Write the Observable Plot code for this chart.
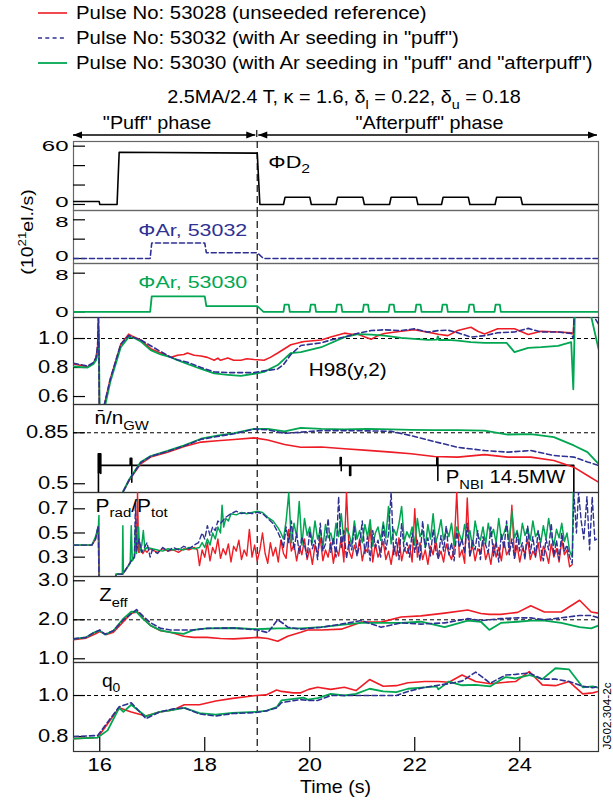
<!DOCTYPE html>
<html><head><meta charset="utf-8">
<script src="https://cdn.jsdelivr.net/npm/d3@7"></script>
<script src="https://cdn.jsdelivr.net/npm/@observablehq/plot@0.6"></script>
<style>
body{margin:0;background:#fff;}
#root{position:relative;width:613px;height:803px;overflow:hidden;}
#root svg{position:absolute;left:0;overflow:visible;}
</style></head><body><div id="root"></div>
<script>
// ================= DATA =================
const xDomain = [15.5, 25.5];
const xTicks = [16, 18, 20, 22, 24];
const phaseSplit = 19.0;
const legendLabels = [
  "Pulse No: 53028 (unseeded reference)",
  'Pulse No: 53032 (with Ar seeding in "puff")',
  'Pulse No: 53030 (with Ar seeding in "puff" and "afterpuff")'
];
const seriesColors = ["#ee1c25", "#2e3192", "#00a651"];
const subtitleParts = [["2.5MA/2.4 T, \u03ba = 1.6, \u03b4"],["l","sub"],[" = 0.22, \u03b4"],["u","sub"],[" = 0.18"]];
const phaseLabels = ['"Puff" phase', '"Afterpuff" phase'];
const yUnitLabel = [["(10"],["21","sup"],["el./s)"]];
const xTitle = "Time (s)";
const figCode = "JG02.304-2c";

// tick values
const d2Ticks = [0, 60], d2Minor = [20, 40];
const arTicks = [0, 8], arMinor = [4];
const h98Ticks = [0.6, 0.8, 1.0];
const ngwTicks = [0.5, 0.85];
const pradTicks = [0.3, 0.5, 0.7];
const zeffTicks = [1.0, 2.0, 3.0];
const q0Ticks = [0.8, 1.0];
const h98Ref = 1.0, ngwRef = 0.85, zeffRef = 2.0, q0Ref = 1.0;

// panel labels
const lblD2 = [["\u03a6"],["D"],["2","sub"]];
const lblAr32 = [["\u03a6Ar, 53032"]];
const lblAr30 = [["\u03a6Ar, 53030"]];
const lblH98 = [["H98(y,2)"]];
const lblNgw = [["n\u0304/n"],["GW","sub"]];
const lblPnbi = [["P"],["NBI","sub"],[" 14.5MW"]];
const lblPrad = [["P"],["rad","sub"],["/P"],["tot","sub"]];
const lblZeff = [["Z"],["eff","sub"]];
const lblQ0 = [["q"],["0","sub"]];

// D2 fuelling (10^21 el/s)
const d2Flux = [[15.5,3],[15.99,3],[16.0,0],[16.33,0],[16.37,53.8],[19.0,52.8],[19.05,0],[19.5,0],[19.53,7.5],[20.0,7.5],[20.03,0],[20.5,0],[20.53,7.5],[21.01,7.5],[21.04,0],[21.52,0],[21.55,7.5],[22.03,7.5],[22.06,0],[22.51,0],[22.54,7.5],[23.02,7.5],[23.05,0],[23.53,0],[23.56,7.5],[24.02,7.5],[24.05,0],[25.5,0]];
// Ar seeding
const ar53032 = [[15.5,0],[16.96,0],[16.99,3.2],[18.0,3.2],[18.03,1.2],[19.0,1.2],[19.12,0],[25.5,0]];
const ar53030 = [[15.5,0],[16.96,0],[16.99,3.2],[18.0,3.2],[18.03,1.2],[19.0,1.2],[19.12,0],[19.5,0],[19.52,1.5],[19.6,1.5],[19.62,0],[20.0,0],[20.02,1.5],[20.1,1.5],[20.12,0],[20.5,0],[20.52,1.5],[20.6,1.5],[20.62,0],[21.01,0],[21.03,1.5],[21.11,1.5],[21.13,0],[21.5,0],[21.52,1.5],[21.6,1.5],[21.62,0],[22.01,0],[22.03,1.5],[22.11,1.5],[22.13,0],[22.51,0],[22.53,1.5],[22.61,1.5],[22.63,0],[23.02,0],[23.04,1.5],[23.12,1.5],[23.14,0],[23.52,0],[23.54,1.5],[23.62,1.5],[23.64,0],[25.5,0]];

// H98(y,2)
const h98Red = [[15.5,0.825],[15.77,0.805],[15.88,0.83],[15.93,0.87],[15.96,0.95],[15.975,1.16],[15.985,0.9],[15.995,0.4],[16.06,0.5],[16.2,0.72],[16.4,0.96],[16.55,1.03],[16.6,1.02],[16.78,0.99],[16.97,0.93],[17.16,0.9],[17.36,0.87],[17.48,0.885],[17.6,0.89],[17.67,0.9],[17.8,0.885],[17.93,0.88],[18.05,0.87],[18.18,0.85],[18.25,0.865],[18.3,0.85],[18.44,0.865],[18.55,0.85],[18.69,0.85],[18.8,0.86],[18.94,0.855],[19.13,0.85],[19.25,0.87],[19.39,0.9],[19.64,0.957],[19.83,0.975],[19.9,0.98],[20.22,0.99],[20.4,1.01],[20.66,1.037],[20.8,1.03],[20.92,1.03],[21.05,1.01],[21.17,0.995],[21.3,1.02],[21.42,1.035],[21.74,1.05],[21.99,1.06],[22.25,1.044],[22.45,1.03],[22.63,1.02],[22.82,1.055],[23.07,1.078],[23.2,1.05],[23.33,1.032],[23.58,1.067],[23.9,1.067],[24.16,1.028],[24.41,1.05],[24.73,1.045],[24.98,1.04],[25.02,1.03],[25.04,1.2],[25.5,1.2]];
const h98Blue = [[15.5,0.83],[15.77,0.81],[15.88,0.835],[15.93,0.87],[15.96,0.95],[15.975,1.16],[15.985,0.9],[15.995,0.4],[16.06,0.5],[16.2,0.72],[16.4,0.96],[16.55,1.02],[16.7,1.0],[16.78,0.99],[16.97,0.95],[17.16,0.91],[17.36,0.87],[17.48,0.853],[17.67,0.837],[17.93,0.8],[18.18,0.77],[18.44,0.765],[18.69,0.765],[18.94,0.765],[19.13,0.777],[19.39,0.79],[19.5,0.82],[19.64,0.89],[19.83,0.952],[20.22,0.97],[20.4,0.99],[20.66,1.01],[20.92,1.037],[21.17,1.055],[21.42,1.06],[21.74,1.055],[21.99,1.067],[22.25,1.044],[22.45,1.055],[22.63,1.058],[22.82,1.04],[23.07,1.01],[23.33,1.02],[23.58,1.04],[23.9,1.045],[24.16,1.07],[24.41,1.045],[24.73,1.045],[24.98,1.035],[25.02,1.0],[25.04,1.2],[25.4,1.16],[25.5,1.1]];
const h98Green = [[15.5,0.807],[15.77,0.8],[15.88,0.825],[15.93,0.85],[15.965,0.9],[15.98,1.055],[15.99,0.8],[16.0,0.4],[16.08,0.5],[16.2,0.7],[16.4,0.94],[16.55,1.01],[16.65,1.005],[16.78,0.98],[16.97,0.92],[17.16,0.89],[17.36,0.87],[17.48,0.85],[17.67,0.825],[17.93,0.79],[18.18,0.76],[18.44,0.75],[18.69,0.742],[18.94,0.757],[19.13,0.77],[19.39,0.817],[19.64,0.9],[19.83,0.906],[20.22,0.94],[20.66,1.01],[20.92,1.03],[21.17,1.027],[21.42,1.02],[21.74,1.004],[21.99,0.997],[22.25,0.99],[22.42,0.992],[22.44,1.015],[22.46,0.99],[22.63,0.99],[22.82,0.986],[23.07,0.975],[23.33,0.97],[23.58,0.97],[23.75,0.97],[23.9,0.906],[24.16,0.936],[24.41,0.94],[24.73,0.95],[24.98,0.975],[25.02,0.65],[25.04,0.98],[25.05,1.2],[25.33,1.2],[25.5,0.93]];

// n/nGW
const ngwRed = [[16.38,0.4],[16.56,0.523],[16.78,0.637],[16.97,0.683],[17.29,0.717],[17.61,0.756],[17.93,0.786],[18.24,0.795],[18.56,0.804],[18.94,0.815],[19.2,0.8],[19.52,0.77],[19.83,0.751],[20.22,0.752],[20.66,0.74],[21.1,0.729],[21.55,0.717],[21.93,0.706],[22.37,0.687],[22.82,0.683],[23.33,0.7],[23.77,0.683],[24.21,0.683],[24.65,0.66],[25.03,0.614],[25.29,0.557],[25.5,0.511]];
const ngwGreen = [[16.38,0.4],[16.56,0.53],[16.78,0.65],[16.97,0.69],[17.29,0.725],[17.61,0.763],[17.93,0.809],[18.24,0.83],[18.56,0.847],[18.94,0.877],[19.2,0.877],[19.52,0.86],[19.83,0.884],[20.22,0.877],[20.66,0.873],[21.1,0.877],[21.55,0.873],[21.93,0.87],[22.37,0.868],[22.82,0.868],[23.33,0.865],[23.77,0.838],[24.21,0.84],[24.65,0.82],[25.03,0.763],[25.29,0.717],[25.5,0.637]];
const ngwBlue = [[16.38,0.4],[16.56,0.525],[16.78,0.645],[16.97,0.688],[17.29,0.722],[17.61,0.76],[17.93,0.805],[18.24,0.825],[18.56,0.843],[18.94,0.875],[19.2,0.87],[19.52,0.846],[19.83,0.854],[20.22,0.865],[20.66,0.865],[21.1,0.863],[21.55,0.86],[21.93,0.83],[22.37,0.79],[22.82,0.75],[23.33,0.728],[23.77,0.717],[24.21,0.728],[24.65,0.694],[25.03,0.683],[25.29,0.65],[25.5,0.626]];
// NBI power trace (drawn in n/nGW units)
const pnbi = [[15.975,0.4],[15.975,0.705],[16.02,0.705],[16.02,0.57],[16.02,0.626],[16.58,0.626],[16.58,0.675],[16.61,0.675],[16.61,0.51],[16.61,0.626],[20.58,0.626],[20.58,0.68],[20.6,0.68],[20.6,0.59],[20.6,0.626],[20.76,0.626],[20.76,0.557],[20.78,0.557],[20.78,0.626],[22.42,0.626],[22.42,0.68],[22.44,0.68],[22.44,0.522],[22.44,0.626],[25.03,0.626],[25.03,0.4]];

// Prad/Ptot
const pradRedHead = [[15.5,0.4],[15.85,0.4],[15.92,0.45],[15.97,0.55],[15.99,0.0],[16.3,0.0],[16.31,0.16],[16.44,0.16],[16.5,0.2],[16.6,0.27],[16.66,0.3],[16.7,0.45],[16.72,0.84],[16.74,0.34],[16.78,0.38],[16.82,0.33],[16.86,0.36],[16.9,0.34],[16.95,0.37],[17.0,0.36],[17.1,0.34],[17.2,0.37],[17.3,0.35],[17.4,0.36],[17.5,0.34],[17.6,0.37],[17.7,0.36],[17.8,0.38],[17.86,0.36]];
const pradRedNoiseT0 = 17.9;
const pradRedNoise = [.23,.36,.30,.42,.27,.38,.33,.45,.29,.37, .32,.41,.26,.39,.35,.44,.28,.36,.31,.53, .30,.40,.27,.36,.50,.33,.25,.42,.31,.38, .26,.44,.33,.29,.53,.35,.41,.27,.39,.32, .45,.28,.37,.24,.40,.33,.46,.27,.36,.30, .42,.25,.38,.31,.47,.26,.84,.35,.29,.40, .32,.45,.27,.38,.34,.55,.26,.41,.30,.36, .43,.28,.35,.24,.39,.31,.46,.27,.37,.33, .40,.26,.70,.30,.42,.28,.36,.24,.39,.32, .45,.29,.35,.26,.41,.33,.28,.38,.84,.30, .36,.25,.79,.31,.40,.27,.37,.33,.44,.28, .35,.24,.41,.30,.38,.27,.43,.32,.36,.73, .29,.40,.26,.37,.33,.45,.28,.35,.31,.42, .27,.39,.34,.25,.41,.30,.37,.26,.44,.32, .36,.22,.24];
const pradGreenHead = [[15.5,0.4],[15.85,0.4],[15.92,0.47],[15.975,0.56],[15.985,0.645],[15.995,0.0],[16.3,0.0],[16.31,0.16],[16.43,0.16],[16.44,0.56],[16.45,0.17],[16.5,0.2],[16.58,0.25],[16.6,0.56],[16.62,0.27],[16.66,0.3],[16.68,0.56],[16.7,0.33],[16.74,0.55],[16.76,0.34],[16.8,0.4],[16.83,0.52],[16.86,0.36],[16.9,0.38],[17.0,0.37],[17.1,0.36],[17.2,0.35],[17.3,0.37],[17.4,0.36],[17.5,0.37],[17.6,0.36],[17.7,0.38],[17.8,0.37],[17.9,0.38],[17.95,0.42],[18.0,0.38],[18.05,0.45],[18.1,0.4],[18.15,0.5],[18.2,0.45],[18.25,0.55],[18.3,0.5],[18.33,0.73],[18.36,0.55],[18.4,0.62],[18.45,0.6],[18.5,0.66],[18.6,0.65],[18.7,0.67],[18.8,0.66],[18.9,0.67],[19.0,0.68],[19.1,0.67],[19.2,0.63],[19.3,0.6],[19.4,0.54]];
const pradNoiseT0 = 19.45;
const pradGreenNoise = [.50,.45,.60,.83,.42,.58,.47,.76,.40,.62, .48,.55,.42,.60,.45,.52,.38,.57,.46,.50, .41,.58,.47,.66,.43,.54,.49,.40,.60,.45, .52,.42,.57,.47,.61,.39,.50,.55,.44,.59, .46,.72,.41,.53,.48,.58,.72,.43,.51,.46, .55,.40,.62,.47,.52,.38,.57,.45,.66,.42, .50,.61,.44,.53,.47,.58,.40,.55,.49,.43, .57,.46,.52,.39,.60,.48,.44,.55,.41,.58, .47,.53,.42,.62,.45,.50,.57,.43,.68,.46, .52,.41,.58,.48,.54,.44,.60,.47,.51,.42, .56,.45,.62,.48,.40,.53,.46,.58,.43,.50, .35,.30];
const pradGreenTail = [[25.02,0.84]];
const pradBlueHead = [[15.5,0.4],[15.85,0.4],[15.92,0.45],[15.97,0.56],[15.99,0.0],[16.3,0.0],[16.31,0.16],[16.44,0.16],[16.5,0.2],[16.6,0.27],[16.66,0.3],[16.68,0.75],[16.7,0.35],[16.75,0.45],[16.8,0.34],[16.9,0.42],[16.96,0.3],[17.0,0.36],[17.1,0.33],[17.2,0.38],[17.3,0.35],[17.4,0.38],[17.5,0.36],[17.6,0.39],[17.7,0.37],[17.8,0.4],[17.88,0.42],[17.95,0.5],[18.0,0.45],[18.05,0.56],[18.1,0.48],[18.15,0.55],[18.2,0.52],[18.25,0.6],[18.3,0.58],[18.4,0.63],[18.5,0.66],[18.6,0.68],[18.7,0.66],[18.8,0.67],[18.9,0.66],[19.0,0.67],[19.1,0.66],[19.2,0.62],[19.3,0.58],[19.4,0.5]];
const pradBlueNoise = [.45,.38,.55,.42,.60,.36,.50,.33,.47,.40, .30,.52,.37,.44,.28,.58,.35,.41,.62,.34, .46,.30,.80,.38,.52,.29,.43,.36,.55,.31, .40,.60,.33,.47,.27,.52,.38,.44,.30,.56, .36,.49,.84,.32,.45,.28,.58,.35,.42,.30, .50,.34,.44,.27,.60,.38,.46,.31,.53,.36, .29,.48,.35,.56,.32,.42,.27,.51,.38,.45, .33,.58,.30,.44,.36,.52,.28,.47,.40,.34, .55,.31,.43,.26,.49,.37,.60,.32,.45,.29, .50,.35,.42,.28,.56,.33,.47,.30,.52,.38, .27,.45,.36,.58,.31,.44,.28,.50,.35,.40, .30,.25];
const pradBlueTail = [[25.03,0.84],[25.08,0.5],[25.12,0.84],[25.17,0.6],[25.22,0.45],[25.28,0.8],[25.33,0.36],[25.38,0.8],[25.43,0.44],[25.5,0.46]];
const pradNoiseDt = 0.05;

// Zeff
const zeffRed = [[15.5,1.49],[15.74,1.53],[15.93,1.65],[16.0,1.7],[16.13,1.62],[16.26,1.68],[16.45,1.95],[16.6,2.17],[16.72,2.2],[16.82,2.05],[16.97,1.85],[17.16,1.72],[17.35,1.68],[17.6,1.58],[17.79,1.55],[18.04,1.55],[18.3,1.52],[18.55,1.51],[18.8,1.53],[19.0,1.55],[19.2,1.52],[19.39,1.45],[19.58,1.58],[19.83,1.68],[19.96,1.74],[20.22,1.74],[20.6,1.76],[20.98,1.94],[21.36,1.94],[21.74,2.07],[22.12,2.1],[22.57,2.17],[23.01,2.25],[23.26,2.16],[23.42,2.14],[23.64,2.14],[23.96,2.19],[24.21,2.36],[24.47,2.2],[24.79,2.2],[25.14,2.5],[25.36,2.2],[25.5,2.17]];
const zeffGreen = [[15.5,1.51],[15.74,1.55],[15.9,1.68],[16.0,1.72],[16.1,1.62],[16.26,1.72],[16.45,2.03],[16.6,2.21],[16.7,2.2],[16.82,2.03],[16.97,1.85],[17.16,1.73],[17.35,1.68],[17.6,1.64],[17.79,1.74],[18.04,1.78],[18.55,1.79],[19.0,1.76],[19.2,1.77],[19.39,1.78],[19.58,1.78],[19.83,1.78],[20.22,1.81],[20.6,1.87],[20.98,1.92],[21.36,1.92],[21.74,1.92],[22.12,1.95],[22.57,1.81],[23.01,1.98],[23.26,1.95],[23.42,1.74],[23.64,1.92],[23.96,1.95],[24.21,1.98],[24.47,1.98],[24.79,1.92],[25.14,1.81],[25.36,1.78],[25.5,1.85]];
const zeffBlue = [[15.5,1.51],[15.74,1.55],[15.9,1.68],[16.0,1.74],[16.1,1.63],[16.26,1.72],[16.45,2.0],[16.6,2.15],[16.7,2.26],[16.82,2.1],[16.97,1.92],[17.16,1.78],[17.35,1.74],[17.6,1.74],[17.79,1.74],[18.04,1.78],[18.55,1.79],[19.0,1.74],[19.2,1.67],[19.39,2.0],[19.5,1.9],[19.58,1.81],[19.83,1.76],[20.22,1.81],[20.6,1.89],[20.98,1.98],[21.36,1.81],[21.74,1.92],[22.12,1.89],[22.57,1.92],[23.01,2.03],[23.26,1.98],[23.64,2.03],[23.96,2.05],[24.21,2.05],[24.47,2.0],[24.79,2.05],[25.14,2.11],[25.36,2.11],[25.5,2.05]];

// q0
const q0Red = [[15.5,0.79],[15.96,0.795],[16.15,0.862],[16.37,0.94],[16.6,0.92],[16.88,0.9],[17.14,0.92],[17.4,0.93],[17.61,0.955],[17.9,0.955],[18.21,0.973],[18.53,0.986],[18.98,1.0],[19.17,1.003],[19.37,1.027],[19.46,1.02],[19.69,1.013],[19.83,1.013],[19.98,1.03],[20.15,1.04],[20.4,1.03],[20.66,1.04],[20.88,1.024],[21.14,1.078],[21.4,1.045],[21.65,1.048],[21.87,1.062],[22.19,1.068],[22.45,1.068],[22.65,1.065],[22.9,1.1],[23.16,1.068],[23.44,1.057],[23.73,1.065],[23.92,1.068],[24.18,1.117],[24.43,1.052],[24.68,1.048],[24.94,1.068],[25.2,1.008],[25.39,1.013],[25.5,1.02]];
const q0Green = [[15.5,0.79],[15.96,0.795],[16.15,0.83],[16.37,0.94],[16.45,0.92],[16.6,0.955],[16.88,0.898],[17.14,0.92],[17.4,0.93],[17.61,0.94],[17.9,0.914],[18.21,0.907],[18.53,0.915],[18.98,0.92],[19.17,0.925],[19.37,0.943],[19.46,0.976],[19.69,0.984],[19.88,0.99],[19.96,0.98],[20.15,0.987],[20.4,1.008],[20.66,1.0],[20.88,1.008],[21.14,1.033],[21.4,1.02],[21.65,1.017],[21.87,1.033],[22.19,1.04],[22.42,1.045],[22.45,1.03],[22.65,1.068],[22.9,1.05],[23.16,1.052],[23.44,1.045],[23.73,1.09],[23.92,1.083],[24.18,1.1],[24.43,1.08],[24.68,1.133],[24.94,1.127],[25.2,1.04],[25.39,1.045],[25.5,1.038]];
const q0Blue = [[15.5,0.8],[15.96,0.805],[16.15,0.87],[16.37,0.945],[16.6,0.965],[16.88,0.887],[17.14,0.92],[17.4,0.935],[17.61,0.94],[17.9,0.91],[18.21,0.9],[18.53,0.912],[18.98,0.917],[19.17,0.925],[19.37,0.94],[19.46,0.965],[19.69,0.975],[19.83,0.98],[19.96,0.976],[20.15,0.976],[20.4,1.0],[20.66,1.0],[20.88,1.0],[21.14,1.0],[21.4,1.0],[21.65,1.0],[21.87,1.02],[22.19,1.04],[22.45,1.05],[22.65,1.058],[22.9,1.07],[23.16,1.114],[23.44,1.06],[23.73,1.1],[23.92,1.103],[24.18,1.11],[24.43,1.08],[24.68,1.08],[24.94,1.068],[25.2,1.045],[25.39,1.038],[25.5,1.045]];

// ================= BUILD =================
const grid = (t0, vals) => vals.map((v, i) => [t0 + i * pradNoiseDt, v]);
const pradRed = pradRedHead.concat(grid(pradRedNoiseT0, pradRedNoise));
const pradGreen = pradGreenHead.concat(grid(pradNoiseT0, pradGreenNoise), pradGreenTail);
const pradBlue = pradBlueHead.concat(grid(pradNoiseT0, pradBlueNoise), pradBlueTail);

const FONT = "'Liberation Sans', Arial, Helvetica, sans-serif";
const W = 613, ML = 73, MR = 15;
const root = document.getElementById("root");
const tickLenX = (xDomain[1] - xDomain[0]) / (W - ML - MR) * 12;
const [RED, BLUE, GREEN] = seriesColors;
const sRed = {stroke: RED, strokeWidth: 1.6};
const sBlue = {stroke: BLUE, strokeWidth: 1.6, strokeDasharray: "5,3"};
const sGreen = {stroke: GREEN, strokeWidth: 1.8};

function rich(sel, parts, fs) {
  let shift = 0;
  parts.forEach(([s, kind]) => {
    const ts = sel.append("tspan").text(s);
    let target = 0, size = fs;
    if (kind === "sub") { target = fs * 0.3; size = fs * 0.72; }
    if (kind === "sup") { target = -fs * 0.38; size = fs * 0.68; }
    ts.attr("font-size", size);
    if (target !== shift) { ts.attr("dy", target - shift); shift = target; }
  });
}
function addLabel(g, x, y, parts, {fs = 17.5, sx = 1.15, fill = "#000", anchor = "start", rotate = 0} = {}) {
  const t = g.append("text")
    .attr("transform", `translate(${x},${y})` + (rotate ? ` rotate(${rotate})` : "") + ` scale(${sx},1)`)
    .attr("text-anchor", anchor).attr("fill", fill).attr("font-family", FONT).attr("font-size", fs)
    .attr("y", fs * 0.35);
  rich(t, parts, fs);
  return t;
}
function stretchTexts(svg, sx) {
  d3.select(svg).selectAll("text").each(function() {
    const tr = this.getAttribute("transform");
    if (tr) this.setAttribute("transform", tr + ` scale(${sx},1)`);
    else {
      const x = parseFloat(this.getAttribute("x")) || 0, y = parseFloat(this.getAttribute("y")) || 0;
      this.removeAttribute("x"); this.removeAttribute("y");
      this.setAttribute("transform", `translate(${x},${y}) scale(${sx},1)`);
    }
  });
}

function panel(cfg) {
  const {top, h, mb = 0, yDomain, ticks, minor = [], fmt = d => d3.format(".1f")(d), ref = null,
         lines, extra = [], bottomAxis = false, tickFs = 17.5, tickSx = 1.25, tickDy = {}, frameStroke = "#333", labels = []} = cfg;
  const marks = [
    Plot.frame({stroke: frameStroke, strokeWidth: 1.2}),
    ref != null ? Plot.ruleY([ref], {stroke: "#000", strokeWidth: 1, strokeDasharray: "4,3"}) : null,
    Plot.ruleX([phaseSplit], {stroke: "#222", strokeWidth: 1.3, strokeDasharray: "7,4"}),
    Plot.ruleY(ticks.concat(minor), {x1: xDomain[0], x2: xDomain[0] + tickLenX, stroke: "#000", strokeWidth: 1.2}),
    ...ticks.map(t => Plot.axisY([t], {anchor: "left", tickSize: 0, tickPadding: 5, tickFormat: fmt, fontSize: tickFs, label: null, dy: tickDy[t] || 0})),
    ...extra,
    ...lines.map(([data, style]) => Plot.line(data, {x: d => d[0], y: d => d[1], clip: true, ...style}))
  ];
  if (bottomAxis) {
    const tickLenY = (yDomain[1] - yDomain[0]) / h * 14;
    marks.push(Plot.ruleX(xTicks, {y1: yDomain[0], y2: yDomain[0] + tickLenY, stroke: "#000", strokeWidth: 1.2}));
    marks.push(Plot.axisX(xTicks, {anchor: "bottom", tickSize: 0, tickPadding: 7, fontSize: tickFs, label: null}));
  }
  const p = Plot.plot({
    width: W, height: h + mb, marginLeft: ML, marginRight: MR, marginTop: 0, marginBottom: mb,
    x: {domain: xDomain, axis: bottomAxis ? undefined : null},
    y: {domain: yDomain},
    style: {background: "transparent", fontFamily: FONT, color: "#000", overflow: "visible"},
    marks
  });
  p.style.position = "absolute"; p.style.top = top + "px"; p.style.left = "0px";
  stretchTexts(p, tickSx);
  const g = d3.select(p).append("g");
  const sx = p.scale("x"), sy = p.scale("y");
  labels.forEach(([t, v, parts, opts]) => addLabel(g, sx.apply(t), sy.apply(v), parts, opts));
  root.appendChild(p);
  return p;
}

const topTickFs = 15, topTickSx = 1.6;
const p1 = panel({top: 141, h: 69, yDomain: [-6.2, 64.8], ticks: d2Ticks, minor: d2Minor, fmt: d => String(d),
  tickFs: topTickFs, tickSx: topTickSx, tickDy: {0: -2}, frameStroke: "#666",
  lines: [[d2Flux, {stroke: "#000", strokeWidth: 1.6}]],
  labels: [[19.22, 43.5, lblD2, {fs: 17, sx: 1.28}]]});
panel({top: 210, h: 53, yDomain: [-1.03, 9.92], ticks: arTicks, minor: arMinor, fmt: d => String(d),
  tickFs: topTickFs, tickSx: topTickSx, tickDy: {0: -2, 8: 2}, frameStroke: "#666",
  lines: [[ar53032, {stroke: BLUE, strokeWidth: 1.6, strokeDasharray: "5,3"}]],
  labels: [[16.745, 5.8, lblAr32, {fs: 16.5, sx: 1.3, fill: BLUE}]]});
panel({top: 263, h: 54, yDomain: [-1.16, 10.0], ticks: arTicks, fmt: d => String(d),
  tickFs: topTickFs, tickSx: topTickSx, tickDy: {8: 2}, frameStroke: "#666",
  lines: [[ar53030, {stroke: GREEN, strokeWidth: 1.8}]],
  labels: [[16.745, 6.1, lblAr30, {fs: 16.5, sx: 1.3, fill: GREEN}]]});
panel({top: 317, h: 87, yDomain: [0.545, 1.145], ticks: h98Ticks, ref: h98Ref,
  lines: [[h98Red, sRed], [h98Green, sGreen], [h98Blue, sBlue]],
  labels: [[19.99, 0.78, lblH98, {fs: 18.5, sx: 1.12}]]});
panel({top: 404, h: 88, yDomain: [0.44, 1.044], ticks: ngwTicks, ref: ngwRef, fmt: d => String(d),
  extra: [Plot.line(pnbi, {x: d => d[0], y: d => d[1], stroke: "#000", strokeWidth: 1.6, clip: true}),
          Plot.ruleX([15.99], {y1: 0.568, y2: 0.705, stroke: "#000", strokeWidth: 3})],
  lines: [[ngwRed, sRed], [ngwGreen, sGreen], [ngwBlue, sBlue]],
  labels: [[15.91, 0.948, lblNgw, {fs: 18, sx: 1.15}], [22.6, 0.545, lblPnbi, {fs: 18.5, sx: 1.1}]]});
panel({top: 492, h: 84, yDomain: [0.14, 0.835], ticks: pradTicks,
  lines: [[pradRed, {stroke: RED, strokeWidth: 1.4}], [pradGreen, {stroke: GREEN, strokeWidth: 1.5}], [pradBlue, {stroke: BLUE, strokeWidth: 1.4, strokeDasharray: "5,3"}]],
  labels: [[15.93, 0.727, lblPrad, {fs: 18.5, sx: 1.13}]]});
panel({top: 576, h: 86, yDomain: [0.905, 3.11], ticks: zeffTicks, ref: zeffRef,
  lines: [[zeffRed, sRed], [zeffGreen, sGreen], [zeffBlue, sBlue]],
  labels: [[16.0, 2.62, lblZeff, {fs: 18, sx: 1.13}]]});
const p8 = panel({top: 662, h: 89, mb: 52, yDomain: [0.727, 1.161], ticks: q0Ticks, ref: q0Ref, bottomAxis: true,
  lines: [[q0Red, sRed], [q0Green, sGreen], [q0Blue, sBlue]],
  labels: [[16.05, 1.068, lblQ0, {fs: 17.5, sx: 1.1}]]});

// ===== overlay: legend, subtitle, phases, axis titles =====
const xs = t => p1.scale("x").apply(t);
const ov = d3.create("svg").attr("width", W).attr("height", 803)
  .style("position", "absolute").style("top", "0px").style("left", "0px").style("overflow", "visible");
const legendY = [13, 38, 63];
const legendStyles = [sRed, {stroke: BLUE, strokeWidth: 1.3, strokeDasharray: "4,3.3"}, sGreen];
legendLabels.forEach((lab, i) => {
  const st = legendStyles[i];
  ov.append("line").attr("x1", 38).attr("x2", 67).attr("y1", legendY[i]).attr("y2", legendY[i])
    .attr("stroke", st.stroke).attr("stroke-width", st.strokeWidth).attr("stroke-dasharray", st.strokeDasharray || null);
  addLabel(ov, 76, legendY[i], [[lab]], {fs: 18.5, sx: 1.1});
});
addLabel(ov, 344, 97, subtitleParts, {fs: 18, sx: 1.1, anchor: "middle"});
// phase arrows
const ay = 135;
function arrow(x1, x2) {
  ov.append("line").attr("x1", x1).attr("x2", x2).attr("y1", ay).attr("y2", ay).attr("stroke", "#000").attr("stroke-width", 1.3);
  ov.append("path").attr("d", `M${x1},${ay}l9,-3.5l0,7z`).attr("fill", "#000");
  ov.append("path").attr("d", `M${x2},${ay}l-9,-3.5l0,7z`).attr("fill", "#000");
}
arrow(xs(xDomain[0]), xs(phaseSplit) - 1.5);
arrow(xs(phaseSplit) + 1.5, xs(xDomain[1]) - 1);
ov.append("line").attr("x1", xs(phaseSplit)).attr("x2", xs(phaseSplit)).attr("y1", 130).attr("y2", 141)
  .attr("stroke", "#222").attr("stroke-width", 1.3).attr("stroke-dasharray", "7,4");
addLabel(ov, xs(17.1), 123, [[phaseLabels[0]]], {fs: 18, sx: 1.1, anchor: "middle"});
addLabel(ov, xs(22.29), 123, [[phaseLabels[1]]], {fs: 18, sx: 1.1, anchor: "middle"});
addLabel(ov, 27, 232, yUnitLabel, {fs: 17, sx: 1.15, anchor: "middle", rotate: -90});
addLabel(ov, xs((xDomain[0] + xDomain[1]) / 2), 787, [[xTitle]], {fs: 18.5, sx: 1.06, anchor: "middle"});
addLabel(ov, 607, 716, [[figCode]], {fs: 10.5, sx: 1.12, anchor: "middle", rotate: -90});
root.appendChild(ov.node());
</script></body></html>
